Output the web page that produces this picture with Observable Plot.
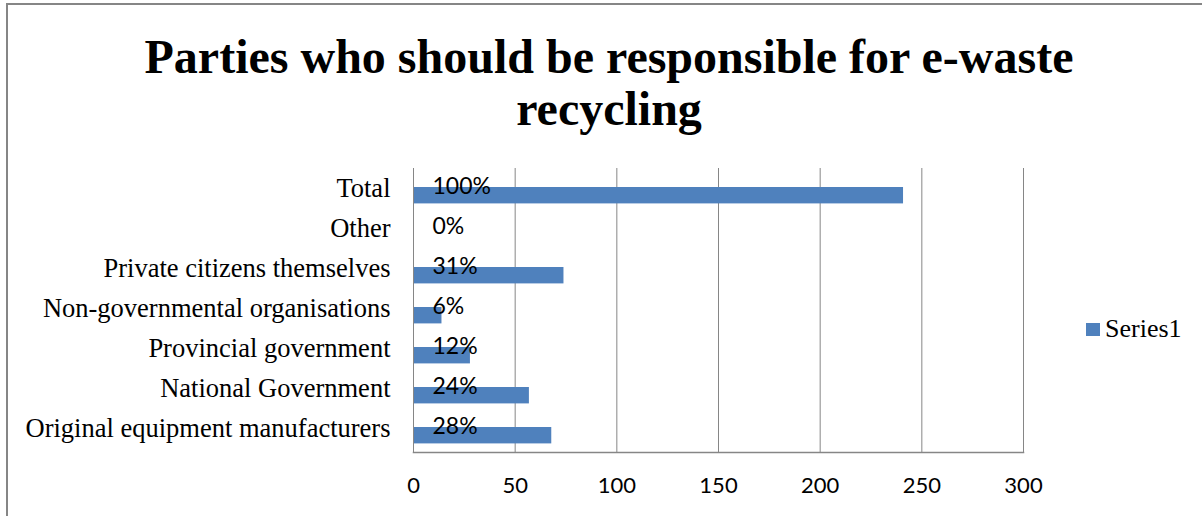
<!DOCTYPE html>
<html>
<head>
<meta charset="utf-8">
<script src="https://cdn.jsdelivr.net/npm/d3@7"></script>
<script src="https://cdn.jsdelivr.net/npm/@observablehq/plot@0.6"></script>
<style>
  html, body { margin: 0; padding: 0; background: #fff; }
  #wrap { position: relative; width: 1202px; height: 516px; overflow: hidden; background: #fff; }
  #frame { position: absolute; left: 6px; top: 3px; width: 1300px; height: 600px;
           border-left: 2px solid #868686; border-top: 2px solid #868686; }
  #title { position: absolute; left: 0; top: 31px; width: 1218px; text-align: center;
           font-family: "Liberation Serif", serif; font-weight: bold; font-size: 48px;
           line-height: 52px; color: #000; margin: 0; }
  #chart { position: absolute; left: 0; top: 0; }
  #legend { position: absolute; left: 1086px; top: 313px; font-family: "Liberation Serif", serif;
            font-size: 26px; line-height: 32px; color: #000; display: flex; align-items: center; }
  #legend .sw { width: 14px; height: 13px; background: #4F81BD; margin-right: 5px; }
</style>
</head>
<body>
<div id="wrap">
  <div id="frame"></div>
  <div id="chart"></div>
  <div id="title">Parties who should be responsible for e-waste<br>recycling</div>
  <div id="legend"><span class="sw"></span><span>Series1</span></div>
</div>
<script>
const categories = ["Total", "Other", "Private citizens themselves", "Non-governmental organisations",
  "Provincial government", "National Government", "Original equipment manufacturers"];
const values = [241, 0, 74, 14, 28, 57, 68];
const percentLabels = ["100%", "0%", "31%", "6%", "12%", "24%", "28%"];
const xTicks = [0, 50, 100, 150, 200, 250, 300];

const data = categories.map((c, i) => ({ category: c, value: values[i], label: percentLabels[i] }));

const chart = Plot.plot({
  width: 1202,
  height: 516,
  marginLeft: 413,
  marginRight: 179,
  marginTop: 168,
  marginBottom: 64,
  style: { background: "transparent", overflow: "visible" },
  x: { domain: [0, 300], ticks: xTicks, label: null },
  y: { domain: categories, padding: 0, label: null },
  marks: [
    Plot.gridX(xTicks, { stroke: "#868686", strokeOpacity: 1, strokeWidth: 1 }),
    Plot.frame({ anchor: "bottom", stroke: "#868686", strokeWidth: 1.5 }),
    Plot.barX(data, { x: "value", y: "category", fill: "#4F81BD", insetTop: 17, insetBottom: 6.6 }),
    Plot.ruleX([0], { stroke: "#868686" }),
    Plot.axisX({ ticks: xTicks, tickSize: 0, tickPadding: 25, fontSize: 22,
      fontFamily: "Lato, sans-serif", fill: "#000", label: null }),
    Plot.axisY({ tickSize: 0, tickPadding: 23, fontSize: 26.5, dy: -2,
      fontFamily: "Liberation Serif, serif", fill: "#000", label: null }),
    Plot.text(data, { x: () => 0, y: "category", text: "label", dx: 19, dy: -4,
      textAnchor: "start", fontSize: 23, fontFamily: "Lato, sans-serif", fill: "#000" })
  ]
});
document.getElementById("chart").appendChild(chart);
</script>
</body>
</html>
